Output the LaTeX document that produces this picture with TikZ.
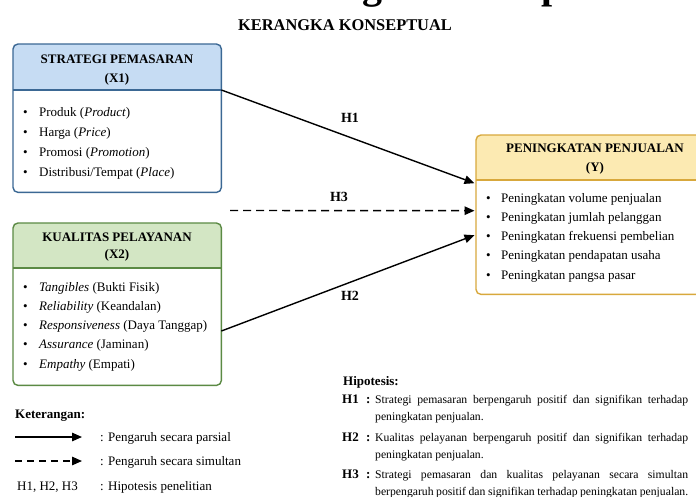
\documentclass[tikz,border=0pt]{standalone}
\usepackage{fontspec}
\setmainfont{Liberation Serif}
\usetikzlibrary{calc,arrows.meta}
\definecolor{bluefill}{HTML}{C6DCF3}
\definecolor{blueline}{HTML}{3B6894}
\definecolor{greenfill}{HTML}{D3E6C4}
\definecolor{greenline}{HTML}{5B8A44}
\definecolor{yelfill}{HTML}{FCEAB2}
\definecolor{yelline}{HTML}{D8A83C}
\tikzset{
  frame/.style={line width=1.4pt, rounded corners=5pt},
  anchorbox/.style={draw=none, inner sep=0pt, anchor=north west},
  hdrtext/.style={font=\fontsize{13}{18.5}\selectfont\bfseries, align=center, inner sep=0pt},
  itemtext/.style={font=\fontsize{13}{16}\selectfont, anchor=base west, inner sep=0pt},
  link/.style={line width=1.4pt, -{Triangle[length=10pt,width=8.5pt]}},
  simlink/.style={link, dash pattern=on 8pt off 5pt},
  hlabel/.style={font=\fontsize{14}{14}\selectfont\bfseries, inner sep=0pt},
  legtext/.style={font=\fontsize{13}{16}\selectfont, anchor=base west, inner sep=0pt},
  hyptext/.style={font=\fontsize{11.7}{17.3}\selectfont, anchor=base west, inner sep=0pt},
  hyplabel/.style={font=\fontsize{13}{16}\selectfont\bfseries, anchor=base west, inner sep=0pt},
}
\begin{document}
\begin{tikzpicture}[x=1pt,y=-1pt]
\useasboundingbox (0,0) rectangle (696,496);
\clip (0,0) rectangle (696,496);
\fill[white] (0,0) rectangle (696,496);

% cropped big title at the top edge
\node[font=\fontsize{40}{40}\selectfont\bfseries, anchor=base west, inner sep=0pt] (bigtitle) at (253,-2) {Kerangka Konseptual};

\node[font=\fontsize{16.4}{18}\selectfont\bfseries, inner sep=0pt] (subtitle) at (345,25) {KERANGKA KONSEPTUAL};

% ---------- X1 box ----------
\node[anchorbox, minimum width=208pt, minimum height=148pt] (x1) at (13,44) {};
\fill[bluefill, rounded corners=5pt] ($(x1.north west)+(0,46)$) -- (x1.north west) -- (x1.north east) [sharp corners] -- ($(x1.north east)+(0,46)$) -- cycle;
\draw[blueline, line width=1.4pt] ($(x1.north west)+(0,46)$) coordinate (x1hl) -- ($(x1.north east)+(0,46)$) coordinate (x1hr);
\draw[frame, blueline] (x1.north west) rectangle (x1.south east);
\node[hdrtext] (x1t) at (117,70) {STRATEGI PEMASARAN\\(X1)};
\foreach \t [count=\i] in {Produk (\textit{Product}), Harga (\textit{Price}), Promosi (\textit{Promotion}), Distribusi/Tempat (\textit{Place})}
  \node[itemtext] (x1i\i) at (23,{116+20*(\i-1)}) {\makebox[16pt][l]{\textbullet}\t};

% ---------- X2 box ----------
\node[anchorbox, minimum width=208pt, minimum height=162pt] (x2) at (13,223) {};
\fill[greenfill, rounded corners=5pt] ($(x2.north west)+(0,45)$) -- (x2.north west) -- (x2.north east) [sharp corners] -- ($(x2.north east)+(0,45)$) -- cycle;
\draw[greenline, line width=1.4pt] ($(x2.north west)+(0,45)$) -- ($(x2.north east)+(0,45)$);
\draw[frame, greenline] (x2.north west) rectangle (x2.south east);
\node[hdrtext, font=\fontsize{13}{17}\selectfont\bfseries] (x2t) at (117,247) {KUALITAS PELAYANAN\\(X2)};
\foreach \t [count=\i] in {\textit{Tangibles} (Bukti Fisik), \textit{Reliability} (Keandalan), \textit{Responsiveness} (Daya Tanggap), \textit{Assurance} (Jaminan), \textit{Empathy} (Empati)}
  \node[itemtext] (x2i\i) at (23,{291+19.3*(\i-1)}) {\makebox[16pt][l]{\textbullet}\t};

% ---------- Y box ----------
\node[anchorbox, minimum width=238pt, minimum height=159pt] (yb) at (476,135) {};
\fill[yelfill, rounded corners=5pt] ($(yb.north west)+(0,45)$) -- (yb.north west) -- (yb.north east) [sharp corners] -- ($(yb.north east)+(0,45)$) -- cycle;
\draw[yelline, line width=1.4pt] ($(yb.north west)+(0,45)$) -- ($(yb.north east)+(0,45)$);
\draw[frame, yelline] (yb.north west) rectangle (yb.south east);
\node[hdrtext] (ybt) at (595,159) {PENINGKATAN PENJUALAN\\(Y)};
\foreach \t [count=\i] in {Peningkatan volume penjualan, Peningkatan jumlah pelanggan, Peningkatan frekuensi pembelian, Peningkatan pendapatan usaha, Peningkatan pangsa pasar}
  \node[itemtext] (ybi\i) at (486,{202+19.25*(\i-1)}) {\makebox[15pt][l]{\textbullet}\t};

% ---------- connectors ----------
\coordinate (h3start) at (230,210.5);
\draw[link] (x1hr) -- ([xshift=-1.5pt,yshift=31.5pt]yb.west);
\draw[simlink] (h3start) -- ([xshift=-1.5pt,yshift=4pt]yb.west);
\draw[link] ([yshift=-108pt]x2.north east) -- ([xshift=-1.5pt,yshift=-20.5pt]yb.west);
\node[hlabel] (lh1) at (350,118) {H1};
\node[hlabel] (lh3) at (339,197) {H3};
\node[hlabel] (lh2) at (350,296) {H2};

% ---------- legend ----------
\node[legtext, font=\fontsize{13}{16}\selectfont\bfseries] (ket) at (15,418) {Keterangan:};
\coordinate (la1) at (15,437); \coordinate (lb1) at (82,437);
\coordinate (la2) at (15,461); \coordinate (lb2) at (82,461);
\draw[link] (la1) -- (lb1);
\draw[simlink, dash pattern=on 7pt off 5pt] (la2) -- (lb2);
\node[legtext] (lt1) at (100,441.5) {: Pengaruh secara parsial};
\node[legtext] (lt2) at (100,465.5) {: Pengaruh secara simultan};
\node[legtext] (lh) at (17,490) {H1, H2, H3};
\node[legtext] (lt3) at (100,490) {: Hipotesis penelitian};

% ---------- hypotheses ----------
\node[legtext, font=\fontsize{13}{16}\selectfont\bfseries] (hip) at (343,385) {Hipotesis:};
\node[hyplabel] (hy1) at (342,403) {H1};
\node[hyplabel] (hc1) at (366,403) {:};
\node[hyptext] (ht1) at (375,403) {\parbox[t]{313pt}{Strategi pemasaran berpengaruh positif dan signifikan terhadap\linebreak peningkatan penjualan.}};
\node[hyplabel] (hy2) at (342,441.5) {H2};
\node[hyplabel] (hc2) at (366,441.5) {:};
\node[hyptext] (ht2) at (375,441.5) {\parbox[t]{313pt}{Kualitas pelayanan berpengaruh positif dan signifikan terhadap\linebreak peningkatan penjualan.}};
\node[hyplabel] (hy3) at (342,478) {H3};
\node[hyplabel] (hc3) at (366,478) {:};
\node[hyptext] (ht3) at (375,478) {\parbox[t]{313pt}{Strategi pemasaran dan kualitas pelayanan secara simultan\linebreak berpengaruh positif dan signifikan terhadap peningkatan penjualan.}};
\end{tikzpicture}
\end{document}
